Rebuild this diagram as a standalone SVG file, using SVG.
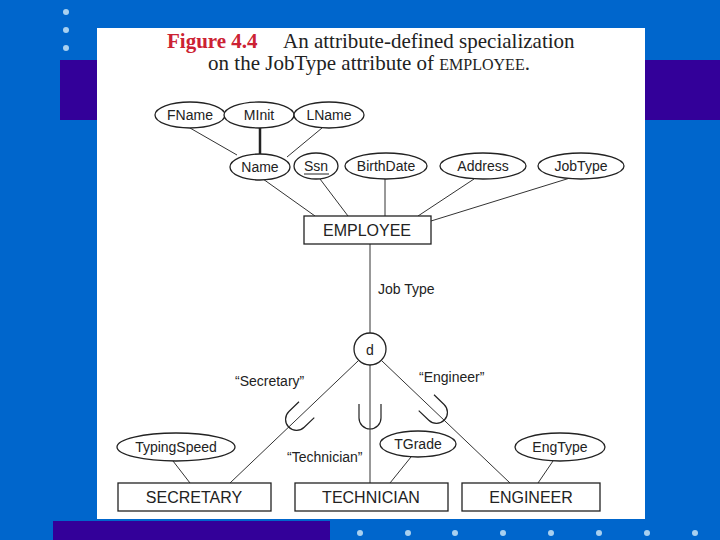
<svg xmlns="http://www.w3.org/2000/svg" width="720" height="540" viewBox="0 0 720 540">
<style>
.bg{fill:#0066cc}
.band{fill:#330099}
.dot{fill:#a8d0f0}
.ell{fill:#fff;stroke:#222;stroke-width:1.3}
.box{fill:#fff;stroke:#222;stroke-width:1.3}
.t{font-family:"Liberation Sans",Arial,sans-serif;font-size:14px;fill:#222;text-anchor:middle}
.tb{font-family:"Liberation Sans",Arial,sans-serif;font-size:16px;fill:#222;text-anchor:middle}
.lbl{font-family:"Liberation Sans",Arial,sans-serif;font-size:14px;fill:#222}
.ttl{font-family:"Liberation Serif","Times New Roman",serif;font-size:21px;fill:#222}
.ln{stroke:#333;stroke-width:1;fill:none}
.sub{stroke:#222;stroke-width:1.2;fill:none}
</style>
<defs>
<path id="u" d="M -11 -12 V 2 A 11 11 0 0 0 11 2 V -12" class="sub"/>
</defs>
<rect class="bg" x="0" y="0" width="720" height="540"/>
<rect class="band" x="60" y="60" width="660" height="60"/>
<rect class="band" x="53" y="521" width="277" height="19"/>
<g id="dots">
<circle class="dot" cx="66" cy="12" r="3"/>
<circle class="dot" cx="66" cy="30" r="3"/>
<circle class="dot" cx="66" cy="48" r="3"/>
<circle class="dot" cx="360" cy="533" r="3"/>
<circle class="dot" cx="408" cy="533" r="3"/>
<circle class="dot" cx="455" cy="533" r="3"/>
<circle class="dot" cx="503" cy="533" r="3"/>
<circle class="dot" cx="551" cy="533" r="3"/>
<circle class="dot" cx="599" cy="533" r="3"/>
<circle class="dot" cx="647" cy="533" r="3"/>
<circle class="dot" cx="695" cy="533" r="3"/>
</g>
<rect x="97" y="28" width="548" height="491" fill="#fff"/>
<g id="title">
<text class="ttl" x="167" y="48"><tspan font-weight="bold" fill="#cc2233">Figure 4.4</tspan><tspan x="283">An attribute-defined specialization</tspan></text>
<text class="ttl" x="369" y="70" text-anchor="middle">on the JobType attribute of <tspan font-size="16px">EMPLOYEE</tspan>.</text>
</g>
<g id="connectors">
<line class="ln" x1="190" y1="128" x2="237" y2="155"/>
<line class="ln" x1="322" y1="128" x2="287" y2="157"/>
<line x1="260" y1="128" x2="260" y2="154" stroke="#222" stroke-width="2.5"/>
<line class="ln" x1="263" y1="179" x2="315" y2="216"/>
<line class="ln" x1="320" y1="179" x2="348" y2="216"/>
<line class="ln" x1="385" y1="179" x2="385" y2="216"/>
<line class="ln" x1="474" y1="179" x2="418" y2="216"/>
<line class="ln" x1="570" y1="178" x2="431" y2="221"/>
<line class="ln" x1="370" y1="244" x2="370" y2="333"/>
<line class="ln" x1="358" y1="361" x2="230" y2="483"/>
<line class="ln" x1="370" y1="365" x2="370" y2="483"/>
<line class="ln" x1="382" y1="361" x2="510" y2="483"/>
<line class="ln" x1="173" y1="461" x2="190" y2="483"/>
<line class="ln" x1="411" y1="457" x2="390" y2="483"/>
<line class="ln" x1="553" y1="461" x2="538" y2="483"/>
<use href="#u" transform="translate(370,416)"/>
<use href="#u" transform="translate(298,418) rotate(46)"/>
<use href="#u" transform="translate(435,411) rotate(-46)"/>
<text class="lbl" x="378" y="294">Job Type</text>
<text class="lbl" x="235" y="386">“Secretary”</text>
<text class="lbl" x="419" y="382">“Engineer”</text>
<text class="lbl" x="287" y="462" font-size="13.5px">“Technician”</text>
</g>
<g id="FName"><ellipse class="ell" cx="190" cy="115" rx="35" ry="13"/><text class="t" x="190" y="120">FName</text></g>
<g id="MInit"><ellipse class="ell" cx="259" cy="115" rx="35" ry="13"/><text class="t" x="259" y="120">MInit</text></g>
<g id="LName"><ellipse class="ell" cx="329" cy="115" rx="35" ry="13"/><text class="t" x="329" y="120">LName</text></g>
<g id="Name"><ellipse class="ell" cx="260" cy="167" rx="30" ry="13"/><text class="t" x="260" y="172">Name</text></g>
<g id="Ssn"><ellipse class="ell" cx="316" cy="166" rx="22" ry="13"/><text class="t" x="316" y="171">Ssn</text><line x1="304" y1="174" x2="329" y2="174" stroke="#222" stroke-width="1"/></g>
<g id="BirthDate"><ellipse class="ell" cx="386" cy="166" rx="41" ry="13"/><text class="t" x="386" y="171">BirthDate</text></g>
<g id="Address"><ellipse class="ell" cx="483" cy="166" rx="43" ry="13"/><text class="t" x="483" y="171">Address</text></g>
<g id="JobType"><ellipse class="ell" cx="581" cy="166" rx="43" ry="13"/><text class="t" x="581" y="171">JobType</text></g>
<g id="EMPLOYEE"><rect class="box" x="304" y="216" width="127" height="28"/><text class="tb" x="367" y="236">EMPLOYEE</text></g>
<g id="d"><circle class="ell" cx="370" cy="349" r="16"/><text class="t" x="370" y="355" font-size="15px">d</text></g>
<g id="TypingSpeed"><ellipse class="ell" cx="176" cy="447" rx="59" ry="14"/><text class="t" x="176" y="452">TypingSpeed</text></g>
<g id="TGrade"><ellipse class="ell" cx="418" cy="444" rx="38" ry="13"/><text class="t" x="418" y="449">TGrade</text></g>
<g id="EngType"><ellipse class="ell" cx="560" cy="447" rx="45" ry="14"/><text class="t" x="560" y="452">EngType</text></g>
<g id="SECRETARY"><rect class="box" x="118" y="483" width="153" height="28"/><text class="tb" x="194" y="503">SECRETARY</text></g>
<g id="TECHNICIAN"><rect class="box" x="295" y="483" width="153" height="28"/><text class="tb" x="371" y="503">TECHNICIAN</text></g>
<g id="ENGINEER"><rect class="box" x="462" y="483" width="138" height="28"/><text class="tb" x="531" y="503">ENGINEER</text></g>
</svg>
